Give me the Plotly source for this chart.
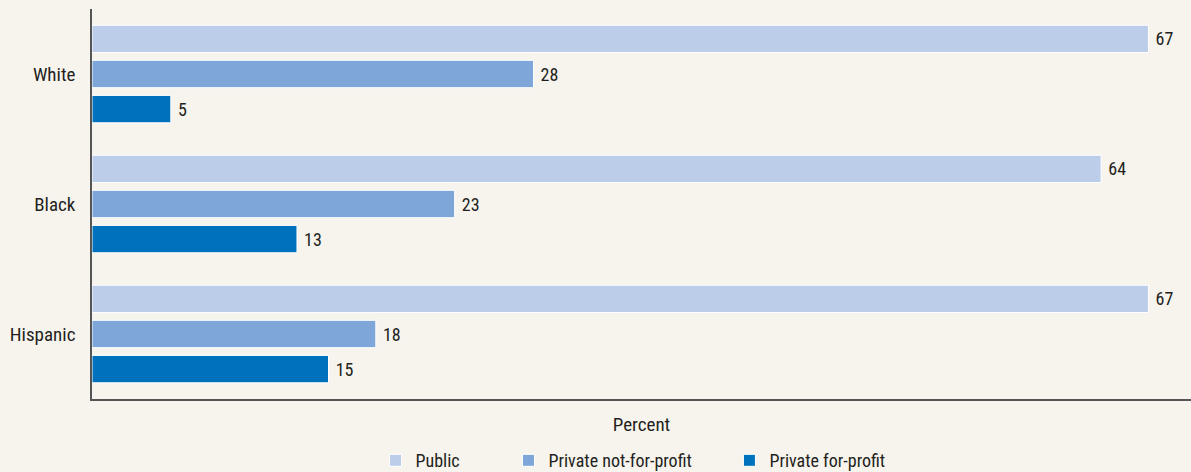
import plotly.graph_objects as go

categories = ["White", "Black", "Hispanic"]
series_names = ["Public", "Private not-for-profit", "Private for-profit"]
public = [67, 64, 67]
private_nfp = [28, 23, 18]
private_fp = [5, 13, 15]
colors = ["#bccde9", "#7ea6d8", "#0071bc"]

FONT = "Liberation Sans Narrow, Roboto Condensed, Arial Narrow, Liberation Sans, sans-serif"
legend_ids = ["legend", "legend2", "legend3"]
legend_x = [0.258, 0.379, 0.580]

fig = go.Figure()
for name, vals, col, lid in zip(series_names, [public, private_nfp, private_fp], colors, legend_ids):
    fig.add_trace(go.Bar(
        name=name, y=categories, x=vals, orientation="h",
        marker=dict(color=col, line=dict(color="white", width=1)),
        text=["\u00a0" + str(v) for v in vals], textposition="outside",
        textfont=dict(size=18, color="#231f20", family=FONT),
        cliponaxis=False, legend=lid,
    ))

leg_common = dict(orientation="h", xanchor="left", y=-0.158, yanchor="middle",
                  font=dict(size=18, family=FONT, color="#231f20"),
                  bgcolor="rgba(0,0,0,0)")
fig.update_layout(
    width=1191, height=472,
    barmode="group", bargap=0.19, bargroupgap=0.22,
    paper_bgcolor="#f7f4ee", plot_bgcolor="#f7f4ee",
    margin=dict(l=92, r=0, t=9, b=73, autoexpand=False),
    font=dict(family=FONT, size=19, color="#231f20"),
    showlegend=True,
    legend=dict(x=legend_x[0], **leg_common),
    legend2=dict(x=legend_x[1], **leg_common),
    legend3=dict(x=legend_x[2], **leg_common),
)
fig.update_xaxes(range=[0, 69.7], showgrid=False, zeroline=False, showticklabels=False,
                 ticks="", showline=True, linecolor="#555555", linewidth=1.5, automargin=False,
                 title=dict(text="Percent", font=dict(size=19, family=FONT), standoff=18))
fig.update_yaxes(autorange="reversed", showgrid=False, showline=True, linecolor="#555555",
                 linewidth=1.5, ticks="", ticklabelstandoff=11, automargin=False,
                 tickfont=dict(size=19, family=FONT, color="#231f20"))

fig.write_html("out.html", config={"displayModeBar": False},
               post_script="document.body.style.margin='0';document.body.style.background='#f7f4ee';")
